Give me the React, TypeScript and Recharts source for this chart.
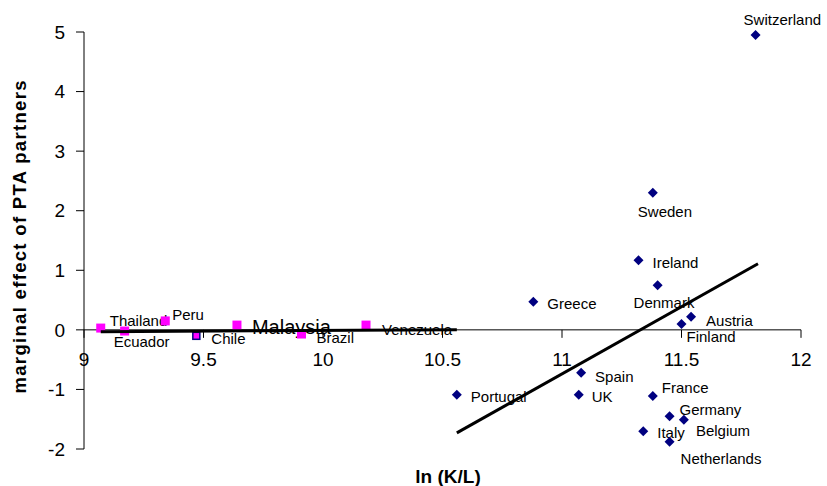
import { Label, ReferenceLine, Scatter, ScatterChart, XAxis, YAxis } from "recharts";

const oecdNames = ["Switzerland", "Sweden", "Ireland", "Denmark", "Greece", "Austria", "Finland", "Spain", "Portugal", "UK", "France", "Germany", "Belgium", "Italy", "Netherlands"];
const oecdLnKL = [11.81, 11.38, 11.32, 11.4, 10.88, 11.54, 11.5, 11.08, 10.56, 11.07, 11.38, 11.45, 11.51, 11.34, 11.45];
const oecdEffect = [4.95, 2.3, 1.17, 0.75, 0.47, 0.22, 0.1, -0.72, -1.09, -1.09, -1.11, -1.45, -1.51, -1.7, -1.88];

const devNames = ["Thailand", "Ecuador", "Peru", "Chile", "Malaysia", "Brazil", "Venezuela"];
const devLnKL = [9.07, 9.17, 9.34, 9.47, 9.64, 9.91, 10.18];
const devEffect = [0.03, -0.02, 0.15, -0.1, 0.08, -0.07, 0.08];

const oecdFitX = [10.56, 11.82];
const oecdFitY = [-1.73, 1.11];
const devFitX = [9.07, 10.56];
const devFitY = [-0.03, 0.0];

const xTicks = [9, 9.5, 10, 10.5, 11, 11.5, 12];
const yTicks = [-2, -1, 0, 1, 2, 3, 4, 5];

const W = 827;
const H = 486;
const TOP = 32;
const X_AXIS_H = 37;
const PLOT_H = H - TOP - X_AXIS_H;
const Y_MIN = -2;
const Y_MAX = 5;
const ZERO_Y = TOP + (PLOT_H * Y_MAX) / (Y_MAX - Y_MIN);
const FONT = "Arial, 'Liberation Sans', sans-serif";

// label placement relative to the marker: [dx, dy] to text start / middle
const labelOffsets: Record<string, [number, number]> = {
  Switzerland: [-12, -15],
  Sweden: [-15, 19],
  Ireland: [14, 3],
  Denmark: [-24, 18],
  Greece: [14, 2],
  Austria: [15, 4],
  Finland: [5, 13],
  Spain: [14, 4],
  Portugal: [14, 2],
  UK: [13, 2],
  France: [9, -8],
  Germany: [10, -6],
  Belgium: [12, 11],
  Italy: [14, 2],
  Netherlands: [11, 17],
  Thailand: [9, -7],
  Ecuador: [-11, 11],
  Peru: [7, -6],
  Chile: [15, 3],
  Malaysia: [15, 2],
  Brazil: [15, 4],
  Venezuela: [16, 5],
};

const oecd = oecdNames.map((name, i) => ({ name, x: oecdLnKL[i], y: oecdEffect[i] }));
const dev = devNames.map((name, i) => ({ name, x: devLnKL[i], y: devEffect[i] }));
const oecdFit = oecdFitX.map((x, i) => ({ x, y: oecdFitY[i] }));
const devFit = devFitX.map((x, i) => ({ x, y: devFitY[i] }));

function PointLabel({ cx, cy, name }: { cx: number; cy: number; name: string }) {
  const [dx, dy] = labelOffsets[name] || [10, 0];
  const big = name === "Malaysia";
  return (
    <text x={cx + dx} y={cy + dy} dy="0.35em" fontSize={big ? 20 : 15} fontFamily={FONT} fill="#000">
      {name}
    </text>
  );
}

function Diamond(props: any) {
  const { cx, cy, payload } = props;
  const r = 5;
  return (
    <g>
      <path d={`M${cx},${cy - r}L${cx + r},${cy}L${cx},${cy + r}L${cx - r},${cy}Z`} fill="#000080" />
      <PointLabel cx={cx} cy={cy} name={payload.name} />
    </g>
  );
}

function Square(props: any) {
  const { cx, cy, payload } = props;
  const chile = payload.name === "Chile";
  const s = chile ? 7 : 9;
  return (
    <g>
      <rect
        x={cx - s / 2}
        y={cy - s / 2}
        width={s}
        height={s}
        fill="#ff00ff"
        stroke={chile ? "#000080" : "none"}
        strokeWidth={1.5}
      />
      <PointLabel cx={cx} cy={cy} name={payload.name} />
    </g>
  );
}

function XTick(props: any) {
  const { x, payload } = props;
  return (
    <g>
      <line x1={x} y1={ZERO_Y} x2={x} y2={ZERO_Y + 8} stroke="#000" />
      <text x={x} y={ZERO_Y + 36} textAnchor="middle" fontSize={19} fontFamily={FONT} fill="#000">
        {payload.value}
      </text>
    </g>
  );
}

export default function App() {
  return (
    <div style={{ position: "absolute", left: 0, top: 0, background: "#fff" }}>
      <ScatterChart width={W} height={H} margin={{ top: TOP, right: 26, bottom: 0, left: 0 }}>
        <XAxis
          type="number"
          dataKey="x"
          domain={[9, 12]}
          ticks={xTicks}
          height={X_AXIS_H}
          axisLine={false}
          tickLine={false}
          tick={<XTick />}
        >
          <Label
            content={() => (
              <text x={448} y={483} textAnchor="middle" fontSize={19} fontWeight="bold" fontFamily={FONT} fill="#000">
                ln (K/L)
              </text>
            )}
          />
        </XAxis>
        <YAxis
          type="number"
          dataKey="y"
          domain={[Y_MIN, Y_MAX]}
          ticks={yTicks}
          width={84}
          tickSize={8}
          tickMargin={11}
          axisLine={{ stroke: "#000" }}
          tickLine={{ stroke: "#000" }}
          tick={{ fill: "#000", fontSize: 19, fontFamily: FONT }}
        >
          <Label
            content={() => (
              <text
                x={26}
                y={237}
                transform="rotate(-90, 26, 237)"
                textAnchor="middle"
                fontSize={18.5}
                fontWeight="bold"
                fontFamily={FONT}
                fill="#000"
                textLength={313}
                lengthAdjust="spacing"
              >
                marginal effect of PTA partners
              </text>
            )}
          />
        </YAxis>
        <ReferenceLine y={0} stroke="#000" strokeWidth={1} />
        <Scatter data={oecd} shape={<Diamond />} isAnimationActive={false} />
        <Scatter data={dev} shape={<Square />} isAnimationActive={false} />
        <Scatter data={oecdFit} line={{ stroke: "#000", strokeWidth: 3 }} shape={() => <g />} isAnimationActive={false} />
        <Scatter data={devFit} line={{ stroke: "#000", strokeWidth: 3 }} shape={() => <g />} isAnimationActive={false} />
      </ScatterChart>
    </div>
  );
}
